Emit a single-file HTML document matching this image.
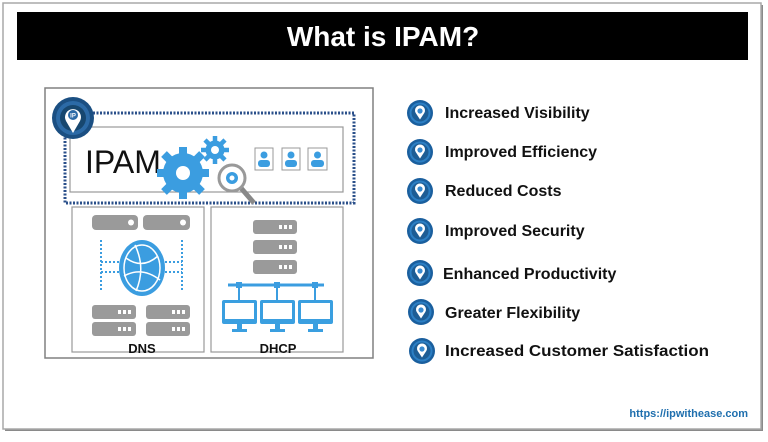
<!DOCTYPE html>
<html><head><meta charset="utf-8"><style>
body{margin:0;width:768px;height:437px;background:#fff;overflow:hidden;font-family:"Liberation Sans",sans-serif}
</style></head><body>
<svg width="768" height="437" viewBox="0 0 768 437" xmlns="http://www.w3.org/2000/svg" font-family="Liberation Sans, sans-serif">
<defs>
<g id="badge">
<circle r="13" fill="#1a5f9e"/>
<circle r="10.5" fill="#2c7fc4"/>
<circle r="8.5" fill="#1d5d95"/>
<path d="M0,6.5 L-4.3,0 A5,5 0 1 1 4.3,0 Z" fill="#fff"/>
<circle cy="-2" r="2.6" fill="#3a8bd0"/>
</g>
<g id="srv">
<rect width="44" height="14" rx="3" fill="#9a9a9a"/>
<rect x="26" y="5" width="3" height="4" fill="#fff"/><rect x="31" y="5" width="3" height="4" fill="#fff"/><rect x="36" y="5" width="3" height="4" fill="#fff"/>
</g>
<g id="mon">
<rect width="35" height="24" rx="2" fill="#3a9fe0"/>
<rect x="3" y="3" width="29" height="16" fill="#fff"/>
<rect x="15" y="24" width="5" height="5" fill="#3a9fe0"/>
<rect x="10" y="29" width="15" height="3" fill="#3a9fe0"/>
</g>
</defs>
<rect x="5" y="5" width="758" height="426" fill="#8a8a8a"/>
<rect x="3" y="3" width="758" height="426" fill="#fff" stroke="#a8a8a8" stroke-width="1.5"/>
<rect x="17" y="12" width="731" height="48" fill="#000"/>
<text x="383" y="46" text-anchor="middle" fill="#fff" font-size="28" font-weight="bold">What is IPAM?</text>
<rect x="45" y="88" width="328" height="270" fill="#fff" stroke="#808080" stroke-width="1.5"/>
<rect x="65" y="113" width="289" height="90" fill="none" stroke="#2a4f8a" stroke-width="3" stroke-dasharray="2 1.5"/>
<rect x="70" y="127" width="273" height="65" fill="none" stroke="#999" stroke-width="1.2"/>
<text x="85" y="173" font-size="32" fill="#111">IPAM</text>
<g fill="#3b9de0">
<circle cx="183" cy="173" r="20"/>
<g stroke="#3b9de0" stroke-width="8">
<line x1="183" y1="147" x2="183" y2="199"/><line x1="157" y1="173" x2="209" y2="173"/>
<line x1="164" y1="154" x2="202" y2="192"/><line x1="202" y1="154" x2="164" y2="192"/>
</g>
<circle cx="215" cy="150" r="9.5"/>
<g stroke="#3b9de0" stroke-width="4.5">
<line x1="215" y1="136" x2="215" y2="164"/><line x1="201" y1="150" x2="229" y2="150"/>
<line x1="205" y1="140" x2="225" y2="160"/><line x1="225" y1="140" x2="205" y2="160"/>
</g>
</g>
<circle cx="183" cy="173" r="7" fill="#fff"/>
<circle cx="215" cy="150" r="4" fill="#fff"/>
<line x1="241" y1="188" x2="254" y2="203" stroke="#888" stroke-width="5"/>
<circle cx="232" cy="178" r="13" fill="#fff" stroke="#999" stroke-width="3"/>
<circle cx="232" cy="178" r="6" fill="#3b9de0"/><circle cx="232" cy="178" r="2.5" fill="#fff"/>
<g fill="#fff" stroke="#999">
<rect x="255" y="148" width="18" height="22"/><rect x="282" y="148" width="18" height="22"/><rect x="308" y="148" width="19" height="22"/>
</g>
<g fill="#3b9de0">
<circle cx="264" cy="155" r="3.5"/><rect x="258" y="160" width="12" height="7" rx="3"/>
<circle cx="291" cy="155" r="3.5"/><rect x="285" y="160" width="12" height="7" rx="3"/>
<circle cx="317.5" cy="155" r="3.5"/><rect x="311" y="160" width="13" height="7" rx="3"/>
</g>
<circle cx="73" cy="118" r="21" fill="#1b4f82"/>
<circle cx="73" cy="118" r="17" fill="#2c6aa6"/>
<circle cx="73" cy="118" r="13" fill="#17476f"/>
<path d="M73,133 L66,121 A8,8 0 1 1 80,121 Z" fill="#fff"/>
<circle cx="73" cy="115" r="5" fill="#2c6aa6"/>
<text x="73" y="117.5" text-anchor="middle" font-size="6" fill="#fff" font-weight="bold">IP</text>
<rect x="72" y="207" width="132" height="145" fill="#fff" stroke="#999" stroke-width="1.2"/>
<rect x="92" y="215" width="46" height="15" rx="4" fill="#9a9a9a"/><circle cx="131" cy="222.5" r="3" fill="#fff"/>
<rect x="143" y="215" width="47" height="15" rx="4" fill="#9a9a9a"/><circle cx="183" cy="222.5" r="3" fill="#fff"/>
<g stroke="#3b9de0" stroke-width="2" stroke-dasharray="2 2" fill="none">
<line x1="101" y1="240" x2="101" y2="292"/><line x1="182" y1="240" x2="182" y2="292"/>
<line x1="101" y1="262" x2="119" y2="262"/><line x1="101" y1="272" x2="119" y2="272"/>
<line x1="165" y1="262" x2="182" y2="262"/><line x1="165" y1="272" x2="182" y2="272"/>
</g>
<ellipse cx="142" cy="268" rx="23" ry="28" fill="#3b9de0"/>
<ellipse cx="142" cy="268" rx="18" ry="23" fill="none" stroke="#fff" stroke-width="1.5"/>
<path d="M126,258 Q142,270 158,256 M124,276 Q142,266 160,280 M135,245 Q146,268 136,291" stroke="#fff" stroke-width="1.5" fill="none"/>
<use href="#srv" x="92" y="305"/><use href="#srv" x="146" y="305"/>
<use href="#srv" x="92" y="322"/><use href="#srv" x="146" y="322"/>
<text x="142" y="353" text-anchor="middle" font-size="13" font-weight="bold" fill="#111">DNS</text>
<rect x="211" y="207" width="132" height="145" fill="#fff" stroke="#999" stroke-width="1.2"/>
<use href="#srv" x="253" y="220"/><use href="#srv" x="253" y="240"/><use href="#srv" x="253" y="260"/>
<line x1="228" y1="285" x2="324" y2="285" stroke="#3b9de0" stroke-width="3"/>
<g stroke="#3b9de0" stroke-width="2"><line x1="239" y1="285" x2="239" y2="300"/><line x1="277" y1="285" x2="277" y2="300"/><line x1="315" y1="285" x2="315" y2="300"/></g>
<g fill="#3b9de0"><rect x="236" y="282" width="6" height="6"/><rect x="274" y="282" width="6" height="6"/><rect x="312" y="282" width="6" height="6"/></g>
<use href="#mon" x="222" y="300"/><use href="#mon" x="260" y="300"/><use href="#mon" x="298" y="300"/>
<text x="278" y="353" text-anchor="middle" font-size="13" font-weight="bold" fill="#111">DHCP</text>
<g font-size="16" font-weight="bold" fill="#111">
<use href="#badge" x="420" y="113"/><text x="445" y="118">Increased Visibility</text>
<use href="#badge" x="420" y="152"/><text x="445" y="157">Improved Efficiency</text>
<use href="#badge" x="420" y="191"/><text x="445" y="196">Reduced Costs</text>
<use href="#badge" x="420" y="231"/><text x="445" y="236">Improved Security</text>
<use href="#badge" x="420" y="273"/><text x="443" y="279">Enhanced Productivity</text>
<use href="#badge" x="421" y="312"/><text x="445" y="318">Greater Flexibility</text>
<use href="#badge" x="422" y="351"/><text x="445" y="356" textLength="264" lengthAdjust="spacingAndGlyphs">Increased Customer Satisfaction</text>
</g>
<text x="748" y="417" text-anchor="end" font-size="11" font-weight="bold" fill="#1f6fae">https://ipwithease.com</text>
</svg>
</body></html>
